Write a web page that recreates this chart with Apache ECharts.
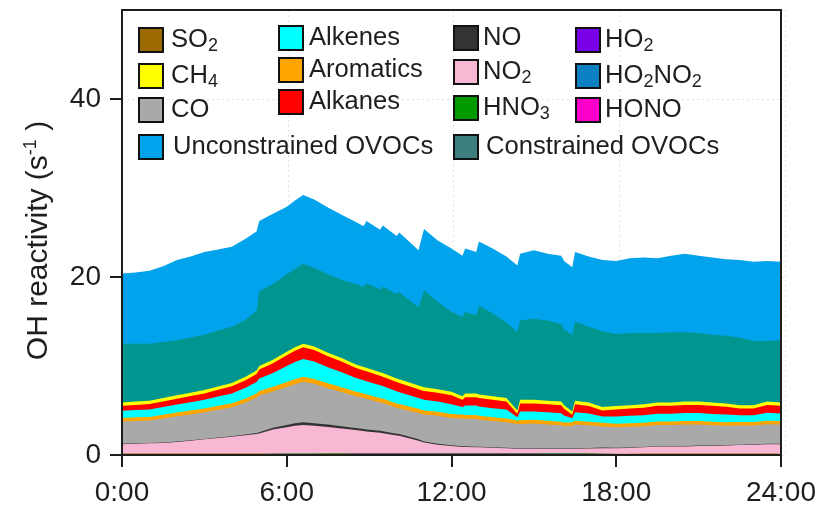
<!DOCTYPE html>
<html>
<head>
<meta charset="utf-8">
<script src="https://cdn.jsdelivr.net/npm/echarts@6/dist/echarts.min.js"></script>
<style>
  html, body { margin: 0; padding: 0; background: #fff; }
  #chart { width: 819px; height: 508px; }
</style>
</head>
<body>
<div id="chart"></div>
<script>
// Hour of day for every sample
const hours = [0,0.5,1,1.5,2,2.5,3,3.5,4,4.5,4.9,5,5.5,6,6.3,6.6,7,7.5,8,8.5,8.8,8.9,9.4,9.5,10,10.1,10.8,11,11.5,12,12.4,12.5,12.9,13,13.5,14,14.4,14.5,15,15.5,16,16.1,16.4,16.5,17,17.5,18,18.5,19,19.5,20,20.5,21,21.5,22,22.5,23,23.5,24];

// OH reactivity contributions (s^-1), listed from the bottom of the stack upward
const ho2 = [0.01,0.01,0.01,0.01,0.01,0.01,0.01,0.01,0.01,0.01,0.01,0.01,0.01,0.02,0.02,0.02,0.02,0.03,0.04,0.05,0.05,0.05,0.06,0.06,0.07,0.07,0.08,0.08,0.1,0.1,0.1,0.1,0.1,0.1,0.1,0.1,0.1,0.1,0.1,0.09,0.09,0.09,0.09,0.09,0.08,0.06,0.04,0.02,0.01,0.01,0.01,0.01,0.01,0.01,0.01,0.01,0.01,0.01,0.01];
const hono = [0.08,0.08,0.08,0.08,0.08,0.08,0.08,0.08,0.08,0.08,0.08,0.08,0.09,0.09,0.09,0.09,0.09,0.09,0.08,0.08,0.08,0.08,0.07,0.07,0.06,0.06,0.05,0.05,0.03,0.03,0.03,0.03,0.03,0.03,0.03,0.03,0.03,0.03,0.03,0.03,0.03,0.03,0.03,0.03,0.03,0.04,0.04,0.06,0.08,0.08,0.08,0.08,0.08,0.08,0.08,0.08,0.08,0.08,0.08];
const hno3 = [0.02,0.02,0.02,0.02,0.02,0.02,0.02,0.02,0.02,0.02,0.02,0.02,0.02,0.02,0.02,0.02,0.02,0.02,0.02,0.02,0.02,0.02,0.02,0.02,0.02,0.02,0.03,0.03,0.03,0.03,0.03,0.03,0.03,0.03,0.03,0.03,0.03,0.03,0.03,0.03,0.03,0.03,0.03,0.03,0.03,0.02,0.02,0.02,0.02,0.02,0.02,0.02,0.02,0.02,0.02,0.02,0.02,0.02,0.02];
const ho2no2 = [0.01,0.01,0.01,0.01,0.01,0.01,0.01,0.01,0.01,0.01,0.01,0.01,0.01,0.01,0.01,0.01,0.01,0.01,0.01,0.01,0.01,0.01,0.01,0.01,0.01,0.01,0.01,0.01,0.01,0.01,0.01,0.01,0.01,0.01,0.01,0.01,0.01,0.01,0.01,0.01,0.01,0.01,0.01,0.01,0.01,0.01,0.01,0.01,0.01,0.01,0.01,0.01,0.01,0.01,0.01,0.01,0.01,0.01,0.01];
const so2 = [0.04,0.04,0.04,0.04,0.04,0.04,0.04,0.04,0.04,0.04,0.04,0.04,0.04,0.04,0.04,0.04,0.04,0.04,0.04,0.04,0.04,0.04,0.04,0.04,0.04,0.04,0.04,0.04,0.04,0.04,0.04,0.04,0.04,0.04,0.04,0.04,0.04,0.04,0.04,0.04,0.04,0.04,0.04,0.04,0.04,0.04,0.04,0.04,0.04,0.04,0.04,0.04,0.04,0.04,0.04,0.04,0.04,0.04,0.04];
const no2 = [1.05,1.1,1.15,1.2,1.3,1.45,1.6,1.75,1.9,2.05,2.2,2.25,2.7,2.95,3.1,3.2,3.1,2.95,2.8,2.6,2.5,2.45,2.3,2.25,2.0,1.95,1.4,1.2,0.95,0.8,0.7,0.7,0.65,0.65,0.6,0.55,0.5,0.5,0.5,0.5,0.5,0.5,0.5,0.5,0.55,0.6,0.6,0.65,0.7,0.8,0.8,0.8,0.85,0.85,0.9,0.95,1.0,1.05,1.05];
const no = [0.05,0.05,0.05,0.05,0.05,0.05,0.05,0.05,0.06,0.08,0.1,0.15,0.2,0.25,0.3,0.3,0.3,0.28,0.25,0.22,0.22,0.22,0.22,0.22,0.2,0.2,0.15,0.12,0.1,0.08,0.07,0.07,0.07,0.07,0.06,0.06,0.06,0.06,0.06,0.06,0.06,0.06,0.06,0.06,0.06,0.06,0.06,0.05,0.05,0.05,0.05,0.05,0.05,0.05,0.05,0.05,0.05,0.05,0.05];
const co = [2.51,2.52,2.51,2.70,2.84,2.90,2.98,3.12,3.25,3.60,3.96,4.14,4.07,4.27,4.37,4.56,4.42,4.09,3.84,3.61,3.48,3.45,3.19,3.17,2.90,2.88,2.97,3.01,3.14,3.06,3.13,3.08,3.13,3.04,2.96,2.86,2.70,2.71,2.76,2.67,2.58,2.48,2.51,2.68,2.54,2.38,2.31,2.33,2.31,2.35,2.35,2.41,2.36,2.28,2.18,2.16,2.11,2.20,2.16];
const aromatics = [0.40,0.40,0.40,0.42,0.42,0.43,0.43,0.44,0.45,0.47,0.48,0.50,0.53,0.55,0.55,0.56,0.55,0.54,0.52,0.50,0.50,0.50,0.50,0.50,0.50,0.50,0.47,0.46,0.45,0.45,0.44,0.44,0.44,0.43,0.42,0.42,0.40,0.42,0.42,0.42,0.41,0.41,0.40,0.41,0.41,0.40,0.40,0.40,0.40,0.40,0.40,0.40,0.40,0.40,0.40,0.40,0.40,0.40,0.40];
const alkenes = [0.80,0.82,0.85,0.87,0.90,0.95,1.00,1.05,1.10,1.20,1.30,1.40,1.55,1.80,1.95,2.00,1.95,1.80,1.70,1.55,1.50,1.48,1.42,1.40,1.35,1.33,1.20,1.20,1.15,1.10,0.85,1.05,1.05,1.05,1.00,1.00,0.38,1.00,0.95,0.95,0.95,0.80,0.45,0.95,0.90,0.72,0.80,0.82,0.85,0.88,0.88,0.90,0.90,0.88,0.85,0.75,0.75,0.88,0.85];
const alkanes = [0.55,0.57,0.60,0.62,0.65,0.68,0.70,0.75,0.80,0.85,0.90,1.00,1.08,1.20,1.25,1.30,1.30,1.25,1.20,1.12,1.10,1.10,1.07,1.06,1.05,1.04,1.00,1.00,1.00,1.00,0.80,0.95,0.95,0.95,0.95,0.90,0.38,0.90,0.90,0.90,0.90,0.75,0.40,0.90,0.85,0.68,0.80,0.82,0.85,0.88,0.88,0.90,0.90,0.90,0.88,0.75,0.75,0.88,0.85];
const ch4 = [0.38,0.38,0.38,0.38,0.38,0.38,0.38,0.38,0.38,0.39,0.40,0.40,0.40,0.40,0.40,0.40,0.40,0.40,0.40,0.40,0.40,0.40,0.40,0.40,0.40,0.40,0.40,0.40,0.40,0.40,0.40,0.40,0.40,0.40,0.40,0.40,0.37,0.40,0.40,0.40,0.40,0.40,0.38,0.40,0.40,0.39,0.38,0.38,0.38,0.38,0.38,0.38,0.38,0.38,0.38,0.38,0.38,0.38,0.38];
const constrainedOvocs = [6.6,6.5,6.4,6.3,6.2,6.2,6.2,6.3,6.3,6.4,6.7,8.4,8.5,8.7,8.8,9.0,8.8,8.8,8.8,9.0,9.0,9.5,9.3,9.7,9.5,9.8,8.8,10.9,9.8,9.0,8.9,9.2,8.8,10.0,9.3,8.5,8.8,8.9,9.1,9.0,8.7,8.5,8.6,8.9,8.5,8.5,8.1,8.1,8.0,7.8,7.9,7.8,7.7,7.6,7.6,7.6,7.2,6.8,7.0];
const unconstrainedOvocs = [7.9,8.0,8.2,8.5,9.0,9.1,9.3,9.1,9.0,9.1,8.9,7.9,7.9,7.6,7.7,7.7,7.7,7.5,7.3,7.0,6.8,7.0,6.7,6.9,6.5,6.7,6.4,6.9,6.9,7.1,6.9,7.1,7.1,7.2,7.3,7.4,7.5,7.5,7.7,7.5,7.7,7.7,7.6,7.8,7.9,8.0,8.2,8.4,8.5,8.4,8.6,8.8,8.7,8.7,8.6,8.7,8.9,9.0,8.8];

// Axis ticks
const hourTicks = [0, 6, 12, 18, 24];
const reactivityTicks = [0, 20, 40];

// Legend columns (series names)
const legendCol1 = ['SO2', 'CH4', 'CO'];
const legendCol2 = ['Alkenes', 'Aromatics', 'Alkanes'];
const legendCol3 = ['NO', 'NO2', 'HNO3'];
const legendCol4 = ['HO2', 'HO2NO2', 'HONO'];

const FONT = '"Liberation Sans", Arial, Helvetica, sans-serif';
const INK = '#1e1e1e';

// Stack order, bottom to top
const layers = [
  { name: 'HO2', values: ho2, color: '#7a00e6' },
  { name: 'HONO', values: hono, color: '#ff00cc' },
  { name: 'HNO3', values: hno3, color: '#009a00' },
  { name: 'HO2NO2', values: ho2no2, color: '#0a7fc4' },
  { name: 'SO2', values: so2, color: '#9a6a00' },
  { name: 'NO2', values: no2, color: '#f8b8d4' },
  { name: 'NO', values: no, color: '#333333' },
  { name: 'CO', values: co, color: '#a9a9a9' },
  { name: 'Aromatics', values: aromatics, color: '#ffa500' },
  { name: 'Alkenes', values: alkenes, color: '#00ffff' },
  { name: 'Alkanes', values: alkanes, color: '#ff0000' },
  { name: 'CH4', values: ch4, color: '#ffff00' },
  { name: 'Constrained OVOCs', values: constrainedOvocs, color: '#00968f' },
  { name: 'Unconstrained OVOCs', values: unconstrainedOvocs, color: '#00a3ec' }
];

// Running totals: each band is drawn as an area from zero up to its cumulative top,
// painted from the top band down so the lower bands cover the upper ones.
const running = hours.map(function () { return 0; });
const bands = layers.map(function (l) {
  const top = running.map(function (r, i) { return +(r + l.values[i]).toFixed(3); });
  top.forEach(function (v, i) { running[i] = v; });
  return { name: l.name, color: l.color, top: top };
});

const richNames = {
  SO2: 'SO{s|2}', CH4: 'CH{s|4}', NO2: 'NO{s|2}', HNO3: 'HNO{s|3}',
  HO2: 'HO{s|2}', HO2NO2: 'HO{s|2}NO{s|2}'
};

const legendText = {
  fontSize: 25.6, fontFamily: FONT, color: INK, lineHeight: 24,
  rich: {
    s: { fontSize: 18, fontFamily: FONT, color: INK, lineHeight: 12, padding: [12, 0, 0, 0] }
  }
};

function legendBlock(names, left, top, gapToText) {
  return {
    orient: 'vertical',
    left: left, top: top,
    padding: 0,
    itemGap: 6,
    itemWidth: 24, itemHeight: 24,
    icon: 'rect',
    selectedMode: false,
    itemStyle: { borderColor: '#111', borderWidth: 2 },
    textStyle: Object.assign({}, legendText, { padding: [0, 0, 0, gapToText] }),
    formatter: function (n) { return richNames[n] || n; },
    data: names.map(function (n) {
      if (n === 'Constrained OVOCs') return { name: n, itemStyle: { color: '#3d7f7f' } };
      return n;
    })
  };
}

const series = bands.slice().reverse().map(function (b) {
  return {
    name: b.name,
    type: 'line',
    xAxisIndex: 0,
    yAxisIndex: 0,
    data: hours.map(function (h, i) { return [h, b.top[i]]; }),
    symbol: 'none',
    showSymbol: false,
    silent: true,
    z: 2,
    lineStyle: { width: 0 },
    itemStyle: { color: b.color },
    areaStyle: { color: b.color, opacity: 1, origin: 'start' }
  };
});

const gridBox = { left: 122, right: 34, top: 10, bottom: 53 };

const option = {
  animation: false,
  backgroundColor: '#fff',
  grid: [
    Object.assign({}, gridBox),
    Object.assign({}, gridBox)
  ],
  xAxis: [
    {
      type: 'value', gridIndex: 0, position: 'bottom', min: 0, max: 24, interval: 6, z: 10,
      axisLine: { show: true, onZero: false, lineStyle: { color: INK, width: 2 } },
      axisTick: { show: true, length: 12, inside: false, customValues: hourTicks, lineStyle: { color: INK, width: 2 } },
      axisLabel: {
        show: true, margin: 24, customValues: hourTicks,
        fontSize: 28, fontFamily: FONT, color: INK,
        formatter: function (v) { return v + ':00'; }
      },
      splitLine: { show: false }
    },
    {
      type: 'value', gridIndex: 0, position: 'top', min: 0, max: 24, interval: 6, z: 10,
      axisLine: { show: true, onZero: false, lineStyle: { color: INK, width: 2 } },
      axisTick: { show: false }, axisLabel: { show: false }, splitLine: { show: false }
    },
    {
      type: 'value', gridIndex: 1, position: 'bottom', min: 0, max: 24, interval: 6, z: 0,
      axisLine: { show: false }, axisTick: { show: false }, axisLabel: { show: false },
      splitLine: { show: true, lineStyle: { color: '#e4e4e4', width: 1, type: [2, 3] } }
    }
  ],
  yAxis: [
    {
      type: 'value', gridIndex: 0, position: 'left', min: 0, max: 50, interval: 10, z: 10,
      name: 'OH reactivity (s{sup|-1} )',
      nameLocation: 'middle', nameGap: 68, nameRotate: 90,
      nameTextStyle: {
        fontSize: 30, fontFamily: FONT, color: INK, lineHeight: 30,
        padding: [0, 16, 0, 0],
        rich: { sup: { fontSize: 18, fontFamily: FONT, color: INK, lineHeight: 14, padding: [0, 0, 16, 0] } }
      },
      axisLine: { show: true, onZero: false, lineStyle: { color: INK, width: 2 } },
      axisTick: { show: true, length: 12, customValues: reactivityTicks, lineStyle: { color: INK, width: 2 } },
      axisLabel: { show: true, margin: 21, customValues: reactivityTicks, fontSize: 28, fontFamily: FONT, color: INK },
      splitLine: { show: false }
    },
    {
      type: 'value', gridIndex: 0, position: 'right', min: 0, max: 50, interval: 10, z: 10,
      axisLine: { show: true, onZero: false, lineStyle: { color: INK, width: 2 } },
      axisTick: { show: false }, axisLabel: { show: false }, splitLine: { show: false }
    },
    {
      type: 'value', gridIndex: 1, position: 'left', min: 0, max: 50, interval: 20, z: 0,
      axisLine: { show: false }, axisTick: { show: false }, axisLabel: { show: false },
      splitLine: { show: true, lineStyle: { color: '#e4e4e4', width: 1, type: [2, 3] } }
    }
  ],
  legend: [
    legendBlock(legendCol1, 138, 25, 3),
    legendBlock(legendCol2, 278, 25, 1),
    legendBlock(legendCol3, 453, 25, 0),
    legendBlock(legendCol4, 575, 25, 0),
    legendBlock(['Unconstrained OVOCs'], 138, 134, 5),
    legendBlock(['Constrained OVOCs'], 453, 134, 3)
  ],
  series: series
};

const chart = echarts.init(document.getElementById('chart'), null, { renderer: 'canvas' });
chart.setOption(option);
</script>
</body>
</html>
